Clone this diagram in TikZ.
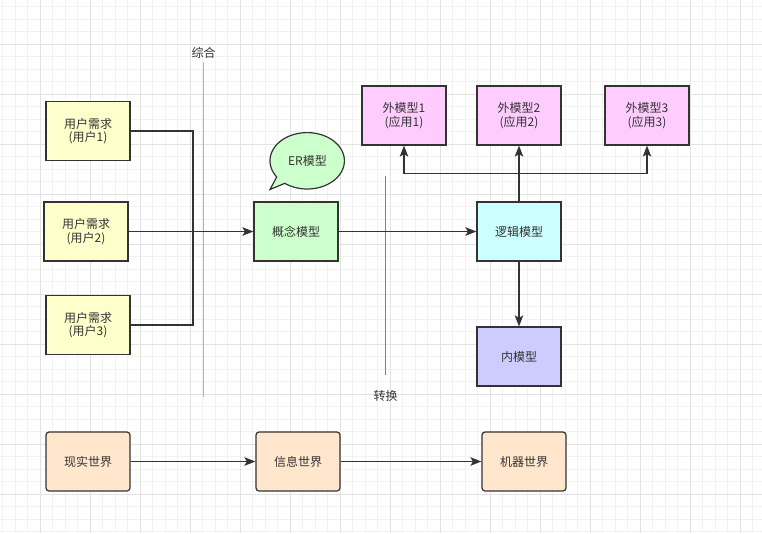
\documentclass[tikz,border=0pt]{standalone}
\usepackage{fontspec}
\setmainfont{Noto Sans CJK SC}
\usetikzlibrary{arrows.meta}
\definecolor{txt}{HTML}{333333}
\definecolor{edge}{HTML}{333333}
\definecolor{gminor}{HTML}{F2F2F2}
\definecolor{gmajor}{HTML}{E2E2E2}
\definecolor{cyellow}{HTML}{FFFFCC}
\definecolor{cgreen}{HTML}{CCFFCC}
\definecolor{ccyan}{HTML}{CCFFFF}
\definecolor{cpink}{HTML}{FFCCFF}
\definecolor{cblue}{HTML}{CCCCFF}
\definecolor{corange}{HTML}{FFE6CC}
\tikzset{
  box/.style={draw=edge, line width=1.2pt, minimum width=84pt, minimum height=59pt,
    inner sep=0pt, align=center, text=txt, font=\fontsize{12}{13.5}\selectfont},
  rbox/.style={box, rounded corners=3pt, fill=corange},
  conn/.style={draw=edge, line width=1.3pt},
  arr/.style={conn, -{Stealth[length=11pt,width=8.5pt,inset=2.5pt]}},
  lbl/.style={text=txt, font=\fontsize{12}{13.5}\selectfont, inner sep=0pt},
}
\begin{document}
\begin{tikzpicture}[x=1pt, y=-1pt]
% background + grid
\fill[white] (0,0) rectangle (762,533);
\useasboundingbox (0,0) rectangle (762,533);
\foreach \gx in {2.8,15.3,...,762} \draw[gminor, line width=0.8pt] (\gx,0) -- (\gx,533);
\foreach \gy in {6.8,19.3,...,533} \draw[gminor, line width=0.8pt] (0,\gy) -- (762,\gy);
\foreach \gx in {40.3,90.3,...,762} \draw[gmajor, line width=0.8pt] (\gx,0) -- (\gx,533);
\foreach \gy in {44.3,94.3,...,533} \draw[gmajor, line width=0.8pt] (0,\gy) -- (762,\gy);

% separator lines and labels
\node[lbl] (zh) at (203.5,52.5) {综合};
\coordinate (zhtop) at (203.5,62);
\coordinate (zhbot) at (203.5,397);
\draw[color=black!30, line width=1pt] (zhtop) -- (zhbot);
\node[lbl] (zz) at (385.5,395.5) {转换};
\coordinate (zztop) at (385.5,176);
\coordinate (zzbot) at (385.5,375);
\draw[color=black!50, line width=1pt] (zztop) -- (zzbot);

% user requirement boxes
\node[box, fill=cyellow] (u1) at (88,131) {用户需求\\(用户1)};
\node[box, fill=cyellow] (u2) at (86,231.5) {用户需求\\(用户2)};
\node[box, fill=cyellow] (u3) at (88,325) {用户需求\\(用户3)};

% models
\node[box, fill=cgreen] (cm) at (296,231.5) {概念模型};
\node[box, fill=ccyan] (lm) at (519,231.5) {逻辑模型};
\node[box, fill=cpink] (e1) at (404,115.5) {外模型1\\(应用1)};
\node[box, fill=cpink] (e2) at (519,115.5) {外模型2\\(应用2)};
\node[box, fill=cpink] (e3) at (647,115.5) {外模型3\\(应用3)};
\node[box, fill=cblue] (im) at (519,356.5) {内模型};

% ER callout
\filldraw[fill=cgreen, draw=edge, line width=1.2pt]
  plot[domain=145:487, samples=120, smooth] ({307.2+37.2*cos(\x)}, {160.8+28.2*sin(\x)})
  -- (270,189.5) -- cycle;
\node[lbl] (er) at (307.5,160.5) {ER模型};

% connectors left
\coordinate (jn) at (193,231.5);
\draw[conn] (u1.east) -| (jn);
\draw[conn] (u3.east) -| (jn);
\draw[arr] (u2.east) -- (cm.west);
\draw[arr] (cm.east) -- (lm.west);

% bus to external models
\coordinate (bus) at (519,173.7);
\draw[arr] (lm.north) -- (e2.south);
\draw[arr] (bus) -| (e1.south);
\draw[arr] (bus) -| (e3.south);
\draw[arr] (lm.south) -- (im.north);

% bottom row
\node[rbox] (w1) at (88,461.5) {现实世界};
\node[rbox] (w2) at (298,461.5) {信息世界};
\node[rbox] (w3) at (524,461.5) {机器世界};
\draw[arr] (w1.east) -- (w2.west);
\draw[arr] (w2.east) -- (w3.west);
\end{tikzpicture}
\end{document}
